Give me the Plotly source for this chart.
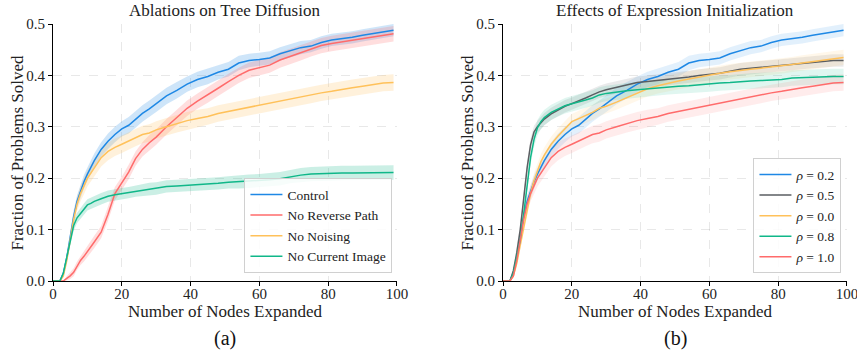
import plotly.graph_objects as go

# ---------------- data ----------------
x_nodes = [0, 1, 2, 3, 4, 5, 6, 7, 8, 9, 10, 11, 12,
           14, 16, 18, 20, 22, 24, 26, 28, 30,
           33, 36, 39, 42, 45, 48, 51, 54, 57, 60, 63, 66, 69, 72, 75, 78, 81, 84, 87, 90, 93, 96, 99]

# Panel (a)
control = [0, 0, 0, 0.015, 0.045, 0.085, 0.125, 0.155, 0.175, 0.193, 0.208, 0.222, 0.234,
           0.256, 0.272, 0.285, 0.296, 0.303, 0.314, 0.326, 0.335, 0.345,
           0.360, 0.371, 0.383, 0.392, 0.398, 0.406, 0.412, 0.424, 0.429, 0.431, 0.434, 0.442, 0.448,
           0.454, 0.457, 0.464, 0.469, 0.471, 0.474, 0.478, 0.481, 0.485, 0.488]
control_sd = [0, 0, 0, 0.004, 0.008, 0.010, 0.012, 0.012, 0.013, 0.013, 0.013, 0.014, 0.014,
              0.014, 0.015, 0.015, 0.015, 0.016, 0.016, 0.016, 0.016, 0.016,
              0.016, 0.016, 0.015, 0.015, 0.015, 0.014, 0.014, 0.014, 0.013, 0.013, 0.013, 0.013, 0.013,
              0.013, 0.012, 0.012, 0.012, 0.012, 0.012, 0.012, 0.012, 0.012, 0.012]

no_reverse = [0, 0, 0, 0, 0.005, 0.010, 0.017, 0.030, 0.040, 0.048, 0.058, 0.066, 0.076,
              0.095, 0.130, 0.170, 0.190, 0.212, 0.238, 0.256, 0.269, 0.280,
              0.300, 0.318, 0.336, 0.350, 0.362, 0.375, 0.388, 0.400, 0.410, 0.415, 0.420, 0.430, 0.437,
              0.444, 0.452, 0.458, 0.462, 0.465, 0.469, 0.472, 0.475, 0.478, 0.481]
no_reverse_sd = [0, 0, 0, 0, 0.004, 0.006, 0.008, 0.008, 0.009, 0.010, 0.010, 0.011, 0.012,
                 0.012, 0.013, 0.013, 0.013, 0.014, 0.014, 0.014, 0.015, 0.015,
                 0.015, 0.015, 0.015, 0.015, 0.015, 0.015, 0.015, 0.015, 0.015, 0.015, 0.015, 0.015, 0.015,
                 0.015, 0.015, 0.015, 0.015, 0.015, 0.015, 0.015, 0.015, 0.015, 0.015]

no_noising = [0, 0, 0, 0.010, 0.040, 0.080, 0.120, 0.150, 0.170, 0.185, 0.200, 0.210, 0.220,
              0.240, 0.252, 0.260, 0.266, 0.272, 0.279, 0.285, 0.288, 0.294,
              0.300, 0.306, 0.312, 0.316, 0.320, 0.326, 0.330, 0.334, 0.339, 0.343, 0.347, 0.350, 0.355,
              0.358, 0.362, 0.366, 0.369, 0.373, 0.376, 0.379, 0.382, 0.385, 0.386]
no_noising_sd = [0, 0, 0, 0.004, 0.008, 0.010, 0.012, 0.014, 0.015, 0.016, 0.016, 0.017, 0.017,
                 0.017, 0.017, 0.017, 0.017, 0.017, 0.017, 0.017, 0.017, 0.017,
                 0.017, 0.017, 0.017, 0.017, 0.016, 0.016, 0.016, 0.016, 0.016, 0.016, 0.016, 0.016, 0.016,
                 0.016, 0.016, 0.016, 0.016, 0.016, 0.016, 0.016, 0.016, 0.016, 0.016]

no_current = [0, 0, 0, 0.015, 0.045, 0.080, 0.108, 0.123, 0.132, 0.140, 0.148, 0.151, 0.155,
              0.160, 0.165, 0.168, 0.170, 0.172, 0.175, 0.177, 0.179, 0.180,
              0.184, 0.185, 0.186, 0.188, 0.189, 0.190, 0.192, 0.193, 0.194, 0.195, 0.197, 0.199, 0.203,
              0.206, 0.208, 0.209, 0.209, 0.210, 0.210, 0.210, 0.211, 0.211, 0.211]
no_current_sd = [0, 0, 0, 0.004, 0.007, 0.009, 0.010, 0.010, 0.011, 0.011, 0.011, 0.011, 0.011,
                 0.011, 0.011, 0.011, 0.011, 0.011, 0.011, 0.012, 0.012, 0.012,
                 0.012, 0.012, 0.012, 0.012, 0.012, 0.012, 0.012, 0.013, 0.013, 0.013, 0.013, 0.013, 0.013,
                 0.014, 0.014, 0.014, 0.014, 0.014, 0.014, 0.014, 0.014, 0.014, 0.014]

# Panel (b)
rho_02 = control
rho_02_sd = control_sd
rho_10 = no_noising
rho_10_sd = no_noising_sd

rho_05 = [0, 0, 0, 0.020, 0.055, 0.100, 0.160, 0.220, 0.265, 0.290, 0.300, 0.308, 0.315,
          0.325, 0.333, 0.340, 0.345, 0.350, 0.356, 0.362, 0.368, 0.372,
          0.377, 0.382, 0.386, 0.388, 0.390, 0.393, 0.395, 0.397, 0.400, 0.402, 0.404, 0.408, 0.412,
          0.414, 0.416, 0.418, 0.420, 0.422, 0.424, 0.426, 0.428, 0.429, 0.429]
rho_05_sd = [0, 0, 0, 0.004, 0.008, 0.010, 0.011, 0.012, 0.012, 0.012, 0.012, 0.012, 0.012,
             0.012, 0.012, 0.012, 0.012, 0.012, 0.012, 0.012, 0.012, 0.012,
             0.012, 0.012, 0.012, 0.012, 0.012, 0.012, 0.012, 0.012, 0.012, 0.012, 0.012, 0.012, 0.012,
             0.012, 0.012, 0.012, 0.012, 0.012, 0.012, 0.012, 0.012, 0.012, 0.012]

rho_00 = [0, 0, 0, 0.010, 0.035, 0.070, 0.105, 0.140, 0.170, 0.195, 0.215, 0.232, 0.245,
          0.266, 0.282, 0.296, 0.310, 0.316, 0.322, 0.328, 0.336, 0.340,
          0.348, 0.357, 0.366, 0.374, 0.380, 0.385, 0.389, 0.393, 0.397, 0.400, 0.404, 0.407, 0.410,
          0.412, 0.414, 0.416, 0.418, 0.421, 0.424, 0.427, 0.430, 0.433, 0.435]
rho_00_sd = [0, 0, 0, 0.004, 0.008, 0.010, 0.012, 0.013, 0.014, 0.015, 0.015, 0.015, 0.015,
             0.015, 0.015, 0.015, 0.015, 0.015, 0.015, 0.015, 0.015, 0.015,
             0.015, 0.015, 0.015, 0.015, 0.015, 0.015, 0.015, 0.015, 0.015, 0.015, 0.015, 0.015, 0.015,
             0.015, 0.015, 0.015, 0.015, 0.015, 0.015, 0.015, 0.015, 0.015, 0.015]

rho_08 = [0, 0, 0, 0.015, 0.045, 0.080, 0.130, 0.190, 0.240, 0.275, 0.298, 0.310, 0.318,
          0.328, 0.335, 0.341, 0.345, 0.348, 0.352, 0.356, 0.362, 0.365,
          0.368, 0.370, 0.372, 0.374, 0.376, 0.378, 0.379, 0.380, 0.382, 0.383, 0.385, 0.386, 0.388,
          0.389, 0.390, 0.391, 0.392, 0.395, 0.396, 0.397, 0.397, 0.398, 0.398]
rho_08_sd = [0, 0, 0, 0.004, 0.008, 0.010, 0.012, 0.013, 0.014, 0.015, 0.015, 0.015, 0.015,
             0.015, 0.015, 0.015, 0.015, 0.015, 0.015, 0.015, 0.015, 0.015,
             0.015, 0.015, 0.015, 0.015, 0.015, 0.015, 0.015, 0.015, 0.015, 0.015, 0.015, 0.015, 0.015,
             0.015, 0.015, 0.015, 0.015, 0.015, 0.015, 0.015, 0.015, 0.015, 0.015]

x_ticks = [0, 20, 40, 60, 80, 100]
y_ticks = [0.0, 0.1, 0.2, 0.3, 0.4, 0.5]

BLUE = "30,136,229"
RED = "255,107,107"
YELLOW = "255,193,90"
GREEN = "16,183,137"
GRAY = "90,94,98"

panel_a = [("Control", control, control_sd, BLUE),
           ("No Reverse Path", no_reverse, no_reverse_sd, RED),
           ("No Noising", no_noising, no_noising_sd, YELLOW),
           ("No Current Image", no_current, no_current_sd, GREEN)]
panel_b = [("<i>ρ</i> = 0.2", rho_02, rho_02_sd, BLUE),
           ("<i>ρ</i> = 0.5", rho_05, rho_05_sd, GRAY),
           ("<i>ρ</i> = 0.0", rho_00, rho_00_sd, YELLOW),
           ("<i>ρ</i> = 0.8", rho_08, rho_08_sd, GREEN),
           ("<i>ρ</i> = 1.0", rho_10, rho_10_sd, RED)]

FONT = "Liberation Serif, DejaVu Serif, serif"
fig = go.Figure()


def add_panel(series, xa, ya, legend, alpha):
    for name, m, sd, col in series:
        up = [a + b for a, b in zip(m, sd)]
        lo = [max(a - b, 0) for a, b in zip(m, sd)]
        fig.add_trace(go.Scatter(x=x_nodes + x_nodes[::-1], y=up + lo[::-1], fill="toself",
                                 fillcolor=f"rgba({col},{alpha})", line=dict(width=0),
                                 hoverinfo="skip", showlegend=False, xaxis=xa, yaxis=ya))
    for name, m, sd, col in series:
        fig.add_trace(go.Scatter(x=x_nodes, y=m, mode="lines", name=name,
                                 line=dict(color=f"rgb({col})", width=1.5),
                                 xaxis=xa, yaxis=ya, legend=legend))


add_panel(panel_a, "x", "y", "legend", 0.22)
add_panel(panel_b, "x2", "y2", "legend2", 0.13)

axis_common = dict(showline=True, linecolor="black", linewidth=1, ticks="outside", ticklen=4,
                   tickcolor="black", showgrid=True, gridcolor="rgba(0,0,0,0.09)", griddash="dash",
                   gridwidth=1, zeroline=False, mirror=False, automargin=False,
                   ticklabeloverflow="allow", tickfont=dict(size=15))
xa = dict(axis_common, range=[0, 100], tickvals=x_ticks, ticklabelstandoff=-5,
          title=dict(text="Number of Nodes Expanded", font=dict(size=17), standoff=0))
ya = dict(axis_common, range=[0, 0.5], tickvals=y_ticks, tickformat=".1f")

legend_common = dict(bgcolor="rgba(255,255,255,0.85)", bordercolor="#d0d0d0", borderwidth=1,
                     xanchor="right", yanchor="bottom", tracegroupgap=0, itemwidth=32)


def ytitle(xpos):
    return dict(text="Fraction of Problems Solved", x=xpos, y=0.5, xref="paper", yref="paper",
                xanchor="center", yanchor="middle", xshift=-36, textangle=-90, showarrow=False,
                font=dict(size=17))


fig.update_layout(
    template="none",
    width=857, height=353,
    margin=dict(l=53, r=10, t=24, b=72),
    plot_bgcolor="white", paper_bgcolor="white",
    font=dict(family=FONT, color="#222", size=14),
    xaxis=dict(xa, domain=[0, 0.4332], anchor="y"),
    yaxis=dict(ya, domain=[0, 1], anchor="x"),
    xaxis2=dict(xa, domain=[0.5668, 1], anchor="y2"),
    yaxis2=dict(ya, domain=[0, 1], anchor="x2"),
    legend=dict(legend_common, x=0.4275, y=0.03, font=dict(size=13.5)),
    legend2=dict(legend_common, x=0.993, y=0.03, font=dict(size=13.5)),
    annotations=[
        dict(text="Ablations on Tree Diffusion", x=0.2166, y=1.0, xref="paper", yref="paper",
             xanchor="center", yanchor="bottom", yshift=2, showarrow=False, font=dict(size=17)),
        dict(text="Effects of Expression Initialization", x=0.7834, y=1.0, xref="paper", yref="paper",
             xanchor="center", yanchor="bottom", yshift=2, showarrow=False, font=dict(size=17)),
        ytitle(0.0),
        ytitle(0.5668),
        dict(text="(a)", x=0.2166, y=0, xref="paper", yref="paper", xanchor="center", yanchor="top",
             yshift=-44, showarrow=False, font=dict(size=20, color="#111")),
        dict(text="(b)", x=0.7834, y=0, xref="paper", yref="paper", xanchor="center", yanchor="top",
             yshift=-44, showarrow=False, font=dict(size=20, color="#111")),
    ],
)

fig.write_html("out.html", config={"displayModeBar": False},
               post_script="document.body.style.margin='0';document.body.style.overflow='hidden';")
